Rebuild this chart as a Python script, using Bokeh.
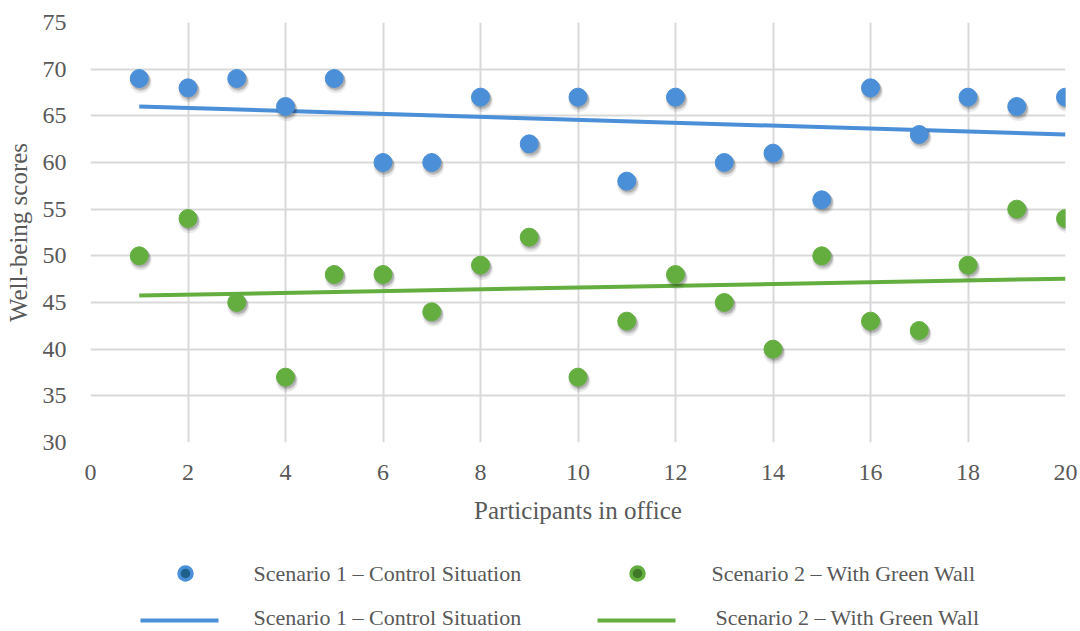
import numpy as np
from bokeh.plotting import figure
from bokeh.layouts import column
from bokeh.models import Range1d, FixedTicker, ColumnDataSource
from bokeh.transform import dodge
from bokeh.core.properties import value
from bokeh.embed import file_html
from bokeh.resources import INLINE

# Well-being scores per participant, two office scenarios
participants = list(range(1, 21))
control_scores = [69, 68, 69, 66, 69, 60, 60, 67, 62, 67, 58, 67, 60, 61, 56, 68, 63, 67, 66, 67]
greenwall_scores = [50, 54, 45, 37, 48, 48, 44, 49, 52, 37, 43, 48, 45, 40, 50, 43, 42, 49, 55, 54]
x_ticks = [0, 2, 4, 6, 8, 10, 12, 14, 16, 18, 20]
y_ticks = [30, 35, 40, 45, 50, 55, 60, 65, 70, 75]
series_names = ["Scenario 1 \u2013 Control Situation", "Scenario 2 \u2013 With Green Wall"]

BLUE = "#4A8FD8"
BLUE_DARK = "#1F5F8B"
GREEN = "#64AE40"
GREEN_DARK = "#3F7A28"
TEXT = "#595959"
GRID = "#D9D9D9"
FONT = "Liberation Serif"

x = np.array(participants, dtype=float)
fit_c = np.polyfit(x, control_scores, 1)
fit_g = np.polyfit(x, greenwall_scores, 1)
trend_x = [participants[0], participants[-1]]
trend_c = [float(np.polyval(fit_c, v)) for v in trend_x]
trend_g = [float(np.polyval(fit_g, v)) for v in trend_x]

src = ColumnDataSource(dict(x=participants, c=control_scores, g=greenwall_scores))

p = figure(width=1080, height=540, output_backend="svg", toolbar_location=None,
           x_range=Range1d(0, 20), y_range=Range1d(30, 75),
           min_border_left=90, min_border_right=15, min_border_top=22, min_border_bottom=98)
p.outline_line_color = None
p.background_fill_color = "white"
p.border_fill_color = "white"

for ax in (p.xaxis[0], p.yaxis[0]):
    ax.axis_line_color = None
    ax.major_tick_line_color = None
    ax.minor_tick_line_color = None
    ax.major_label_text_font = FONT
    ax.major_label_text_font_size = "24px"
    ax.major_label_text_color = TEXT
    ax.axis_label_text_font = FONT
    ax.axis_label_text_font_size = "25px"
    ax.axis_label_text_font_style = "normal"
    ax.axis_label_text_color = TEXT

p.xaxis.ticker = FixedTicker(ticks=x_ticks)
p.yaxis.ticker = FixedTicker(ticks=y_ticks)
p.xaxis.axis_label = "Participants in office"
p.yaxis.axis_label = "Well-being scores"
p.xaxis.major_label_standoff = 16
p.yaxis.major_label_standoff = 18
p.xaxis.axis_label_standoff = 14
p.yaxis.axis_label_standoff = 8

p.xgrid.ticker = FixedTicker(ticks=x_ticks)
p.ygrid.ticker = FixedTicker(ticks=y_ticks)
for g in (p.xgrid[0], p.ygrid[0]):
    g.grid_line_color = GRID
    g.grid_line_width = 2

# trend lines
p.line(trend_x, trend_c, line_color=BLUE, line_width=4)
p.line(trend_x, trend_g, line_color=GREEN, line_width=4)

# soft marker shadows
for off, a, s in ((-0.40, 0.08, 22), (-0.30, 0.12, 20), (-0.18, 0.15, 19)):
    p.scatter(x=dodge("x", 0.03, range=p.x_range), y=dodge("c", off, range=p.y_range), source=src,
              size=s, fill_color="black", fill_alpha=a, line_color=None)
    p.scatter(x=dodge("x", 0.03, range=p.x_range), y=dodge("g", off, range=p.y_range), source=src,
              size=s, fill_color="black", fill_alpha=a, line_color=None)

p.scatter(x="x", y="c", source=src, size=18, fill_color=BLUE, line_color=BLUE, line_width=1)
p.scatter(x="x", y="g", source=src, size=18, fill_color=GREEN, line_color=GREEN, line_width=1)

# legend panel; its frame lines up with the plot frame, so the x range spans 90..1065 px
lg = figure(width=1080, height=91, output_backend="svg", toolbar_location=None,
            x_range=Range1d(90, 1065), y_range=Range1d(631, 540),
            min_border_left=90, min_border_right=15, min_border_top=0, min_border_bottom=0)
lg.axis.visible = False
lg.grid.visible = False
lg.outline_line_color = None

lg.scatter([185], [573], size=13, fill_color=BLUE_DARK, line_color=BLUE, line_width=3.5)
lg.scatter([637], [573], size=13, fill_color=GREEN_DARK, line_color=GREEN, line_width=3.5)
lg.line([140, 218], [620, 620], line_color=BLUE, line_width=4)
lg.line([597, 675], [620, 620], line_color=GREEN, line_width=4)
lg.text([253, 711, 253, 715], [573, 573, 617, 617],
        text=[series_names[0], series_names[1], series_names[0], series_names[1]],
        text_font=value(FONT), text_font_size="22px", text_color=TEXT,
        text_baseline="middle", text_align="left")

layout = column(p, lg, spacing=0)
open("out.html", "w").write(file_html(layout, INLINE))
